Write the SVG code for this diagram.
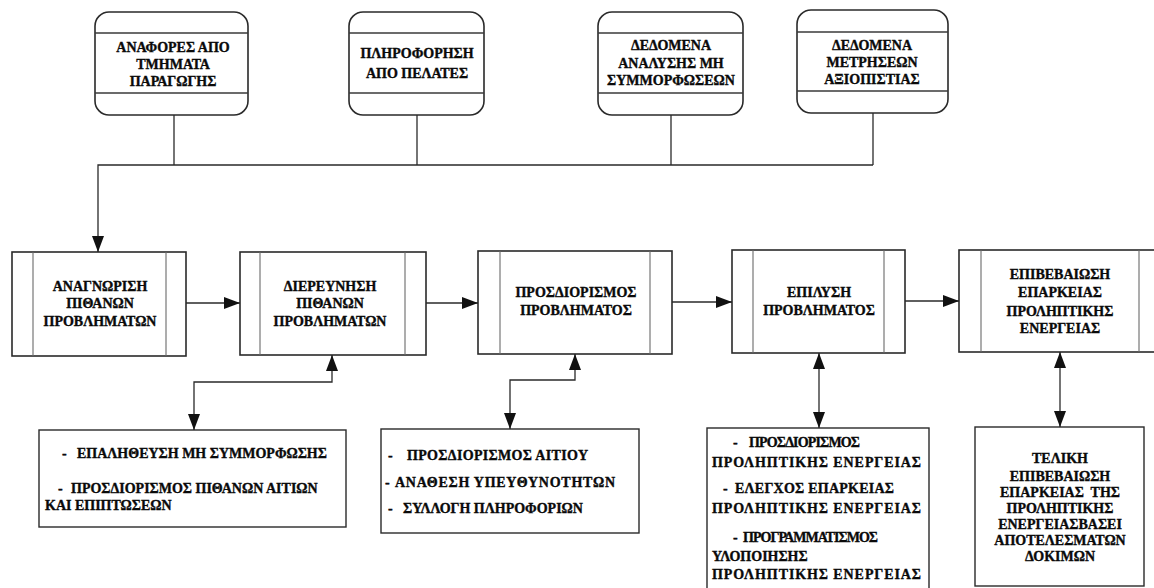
<svg xmlns="http://www.w3.org/2000/svg" width="1154" height="588" viewBox="0 0 1154 588" font-family="'Liberation Serif', 'Times New Roman', serif" font-weight="700" font-size="14">
  <style>
    .bg { fill: #ffffff; }
    .src { fill: #ffffff; stroke: #2a2a2a; stroke-width: 1.6; }
    .div { stroke: #3a3a3a; stroke-width: 1.4; fill: none; }
    .proc { fill: #ffffff; stroke: #2a2a2a; stroke-width: 1.6; }
    .inner { stroke: #6a6a6a; stroke-width: 1.1; fill: none; }
    .note { fill: #ffffff; stroke: #2a2a2a; stroke-width: 1.4; }
    .wire { stroke: #2a2a2a; stroke-width: 1.3; fill: none; }
    text { fill: #0a0a0a; stroke: #0a0a0a; stroke-width: 0.35; }
    .c { text-anchor: middle; }
  </style>
  <defs>
    <marker id="arrow" viewBox="0 0 16 12" refX="16" refY="6" markerWidth="16" markerHeight="12" markerUnits="userSpaceOnUse" orient="auto-start-reverse">
      <path d="M0,0 L16,6 L0,12 z" fill="#111111"/>
    </marker>
  </defs>

  <rect class="bg" x="0" y="0" width="1154" height="588"/>

  <!-- Information sources -->
  <g id="src-reports">
    <rect class="src" x="95" y="12" width="153" height="103" rx="14"/>
    <line class="div" x1="95" y1="33" x2="248" y2="33"/>
    <line class="div" x1="95" y1="93" x2="248" y2="93"/>
    <text class="c" x="173" y="52">ΑΝΑΦΟΡΕΣ ΑΠΟ</text>
    <text class="c" x="173" y="69">ΤΜΗΜΑΤΑ</text>
    <text class="c" x="173" y="86">ΠΑΡΑΓΩΓΗΣ</text>
  </g>
  <g id="src-customers">
    <rect class="src" x="349" y="12" width="135" height="103" rx="14"/>
    <line class="div" x1="349" y1="33" x2="484" y2="33"/>
    <line class="div" x1="349" y1="93" x2="484" y2="93"/>
    <text class="c" x="417" y="58">ΠΛΗΡΟΦΟΡΗΣΗ</text>
    <text class="c" x="417" y="78">ΑΠΟ ΠΕΛΑΤΕΣ</text>
  </g>
  <g id="src-nonconformity">
    <rect class="src" x="598" y="12" width="145" height="103" rx="14"/>
    <line class="div" x1="598" y1="33" x2="743" y2="33"/>
    <line class="div" x1="598" y1="93" x2="743" y2="93"/>
    <text class="c" x="671" y="50">ΔΕΔΟΜΕΝΑ</text>
    <text class="c" x="671" y="68">ΑΝΑΛΥΣΗΣ ΜΗ</text>
    <text class="c" x="671" y="85">ΣΥΜΜΟΡΦΩΣΕΩΝ</text>
  </g>
  <g id="src-reliability">
    <rect class="src" x="797" y="10" width="151" height="103" rx="14"/>
    <line class="div" x1="797" y1="32" x2="948" y2="32"/>
    <line class="div" x1="797" y1="91" x2="948" y2="91"/>
    <text class="c" x="872" y="50">ΔΕΔΟΜΕΝΑ</text>
    <text class="c" x="872" y="67">ΜΕΤΡΗΣΕΩΝ</text>
    <text class="c" x="872" y="84">ΑΞΙΟΠΙΣΤΙΑΣ</text>
  </g>

  <!-- Process steps -->
  <g id="step-identify">
    <rect class="proc" x="12" y="252" width="174" height="104"/>
    <line class="inner" x1="33" y1="252" x2="33" y2="356"/>
    <line class="inner" x1="166" y1="252" x2="166" y2="356"/>
    <text class="c" x="100" y="291">ΑΝΑΓΝΩΡΙΣΗ</text>
    <text class="c" x="100" y="308">ΠΙΘΑΝΩΝ</text>
    <text class="c" x="100" y="326">ΠΡΟΒΛΗΜΑΤΩΝ</text>
  </g>
  <g id="step-investigate">
    <rect class="proc" x="240" y="252" width="186" height="103"/>
    <line class="inner" x1="260" y1="252" x2="260" y2="355"/>
    <line class="inner" x1="405" y1="252" x2="405" y2="355"/>
    <text class="c" x="330" y="291">ΔΙΕΡΕΥΝΗΣΗ</text>
    <text class="c" x="330" y="308">ΠΙΘΑΝΩΝ</text>
    <text class="c" x="330" y="326">ΠΡΟΒΛΗΜΑΤΩΝ</text>
  </g>
  <g id="step-define">
    <rect class="proc" x="478" y="251" width="194" height="103"/>
    <line class="inner" x1="500" y1="251" x2="500" y2="354"/>
    <line class="inner" x1="650" y1="251" x2="650" y2="354"/>
    <text class="c" x="576" y="297">ΠΡΟΣΔΙΟΡΙΣΜΟΣ</text>
    <text class="c" x="576" y="315">ΠΡΟΒΛΗΜΑΤΟΣ</text>
  </g>
  <g id="step-solve">
    <rect class="proc" x="732" y="250" width="173" height="103"/>
    <line class="inner" x1="753" y1="250" x2="753" y2="353"/>
    <line class="inner" x1="884" y1="250" x2="884" y2="353"/>
    <text class="c" x="819" y="297">ΕΠΙΛΥΣΗ</text>
    <text class="c" x="819" y="315">ΠΡΟΒΛΗΜΑΤΟΣ</text>
  </g>
  <g id="step-verify">
    <rect class="proc" x="959" y="250" width="196" height="102"/>
    <line class="inner" x1="981" y1="250" x2="981" y2="352"/>
    <line class="inner" x1="1139" y1="250" x2="1139" y2="352"/>
    <text class="c" x="1060" y="279">ΕΠΙΒΕΒΑΙΩΣΗ</text>
    <text class="c" x="1060" y="297">ΕΠΑΡΚΕΙΑΣ</text>
    <text class="c" x="1060" y="316">ΠΡΟΛΗΠΤΙΚΗΣ</text>
    <text class="c" x="1060" y="333">ΕΝΕΡΓΕΙΑΣ</text>
  </g>

  <!-- Activity notes -->
  <g id="note-investigate">
    <rect class="note" x="39" y="430" width="307" height="97"/>
    <text y="458"><tspan x="62">-</tspan><tspan x="77">ΕΠΑΛΗΘΕΥΣΗ ΜΗ ΣΥΜΜΟΡΦΩΣΗΣ</tspan></text>
    <text y="493"><tspan x="58">-</tspan><tspan x="71">ΠΡΟΣΔΙΟΡΙΣΜΟΣ ΠΙΘΑΝΩΝ ΑΙΤΙΩΝ</tspan></text>
    <text x="45" y="510">ΚΑΙ ΕΠΙΠΤΩΣΕΩΝ</text>
  </g>
  <g id="note-define">
    <rect class="note" x="381" y="429" width="258" height="104"/>
    <text y="460"><tspan x="388">-</tspan><tspan x="407" textLength="181" lengthAdjust="spacing">ΠΡΟΣΔΙΟΡΙΣΜΟΣ ΑΙΤΙΟΥ</tspan></text>
    <text y="487"><tspan x="385">-</tspan><tspan x="395" textLength="220" lengthAdjust="spacing">ΑΝΑΘΕΣΗ ΥΠΕΥΘΥΝΟΤΗΤΩΝ</tspan></text>
    <text y="513"><tspan x="388">-</tspan><tspan x="403">ΣΥΛΛΟΓΗ ΠΛΗΡΟΦΟΡΙΩΝ</tspan></text>
  </g>
  <g id="note-solve">
    <rect class="note" x="707" y="428" width="222" height="170"/>
    <text y="447"><tspan x="733">-</tspan><tspan x="749" textLength="111" lengthAdjust="spacing">ΠΡΟΣΔΙΟΡΙΣΜΟΣ</tspan></text>
    <text x="712" y="467" textLength="209" lengthAdjust="spacing">ΠΡΟΛΗΠΤΙΚΗΣ ΕΝΕΡΓΕΙΑΣ</text>
    <text y="493"><tspan x="723">-</tspan><tspan x="735" textLength="159" lengthAdjust="spacing">ΕΛΕΓΧΟΣ ΕΠΑΡΚΕΙΑΣ</tspan></text>
    <text x="712" y="513" textLength="209" lengthAdjust="spacing">ΠΡΟΛΗΠΤΙΚΗΣ ΕΝΕΡΓΕΙΑΣ</text>
    <text y="542"><tspan x="733">-</tspan><tspan x="743" textLength="135" lengthAdjust="spacing">ΠΡΟΓΡΑΜΜΑΤΙΣΜΟΣ</tspan></text>
    <text x="712" y="561">ΥΛΟΠΟΙΗΣΗΣ</text>
    <text x="712" y="579" textLength="209" lengthAdjust="spacing">ΠΡΟΛΗΠΤΙΚΗΣ ΕΝΕΡΓΕΙΑΣ</text>
  </g>
  <g id="note-verify">
    <rect class="note" x="975" y="427" width="169" height="159"/>
    <text class="c" x="1060" y="463">ΤΕΛΙΚΗ</text>
    <text class="c" x="1060" y="481">ΕΠΙΒΕΒΑΙΩΣΗ</text>
    <text class="c" x="1060" y="497" xml:space="preserve">ΕΠΑΡΚΕΙΑΣ  ΤΗΣ</text>
    <text class="c" x="1060" y="513">ΠΡΟΛΗΠΤΙΚΗΣ</text>
    <text class="c" x="1060" y="529">ΕΝΕΡΓΕΙΑΣΒΑΣΕΙ</text>
    <text class="c" x="1060" y="545">ΑΠΟΤΕΛΕΣΜΑΤΩΝ</text>
    <text class="c" x="1060" y="561">ΔΟΚΙΜΩΝ</text>
  </g>

  <!-- Connectors -->
  <g id="connectors">
    <!-- sources merge into a common feed -->
    <line class="wire" x1="174" y1="115" x2="174" y2="165"/>
    <line class="wire" x1="417" y1="115" x2="417" y2="165"/>
    <line class="wire" x1="671" y1="115" x2="671" y2="165"/>
    <line class="wire" x1="873" y1="113" x2="873" y2="165"/>
    <path class="wire" d="M873,165 H98 V252" marker-end="url(#arrow)"/>
    <!-- main process chain -->
    <line class="wire" x1="186" y1="303" x2="240" y2="303" marker-end="url(#arrow)"/>
    <line class="wire" x1="426" y1="303" x2="478" y2="303" marker-end="url(#arrow)"/>
    <line class="wire" x1="672" y1="302" x2="732" y2="302" marker-end="url(#arrow)"/>
    <line class="wire" x1="905" y1="301" x2="959" y2="301" marker-end="url(#arrow)"/>
    <!-- steps to activity notes -->
    <path class="wire" d="M332,355 V382 H194 V430" marker-start="url(#arrow)" marker-end="url(#arrow)"/>
    <path class="wire" d="M575,354 V380 H510 V429" marker-start="url(#arrow)" marker-end="url(#arrow)"/>
    <line class="wire" x1="819" y1="353" x2="819" y2="428" marker-start="url(#arrow)" marker-end="url(#arrow)"/>
    <line class="wire" x1="1060" y1="352" x2="1060" y2="427" marker-start="url(#arrow)" marker-end="url(#arrow)"/>
  </g>
</svg>
